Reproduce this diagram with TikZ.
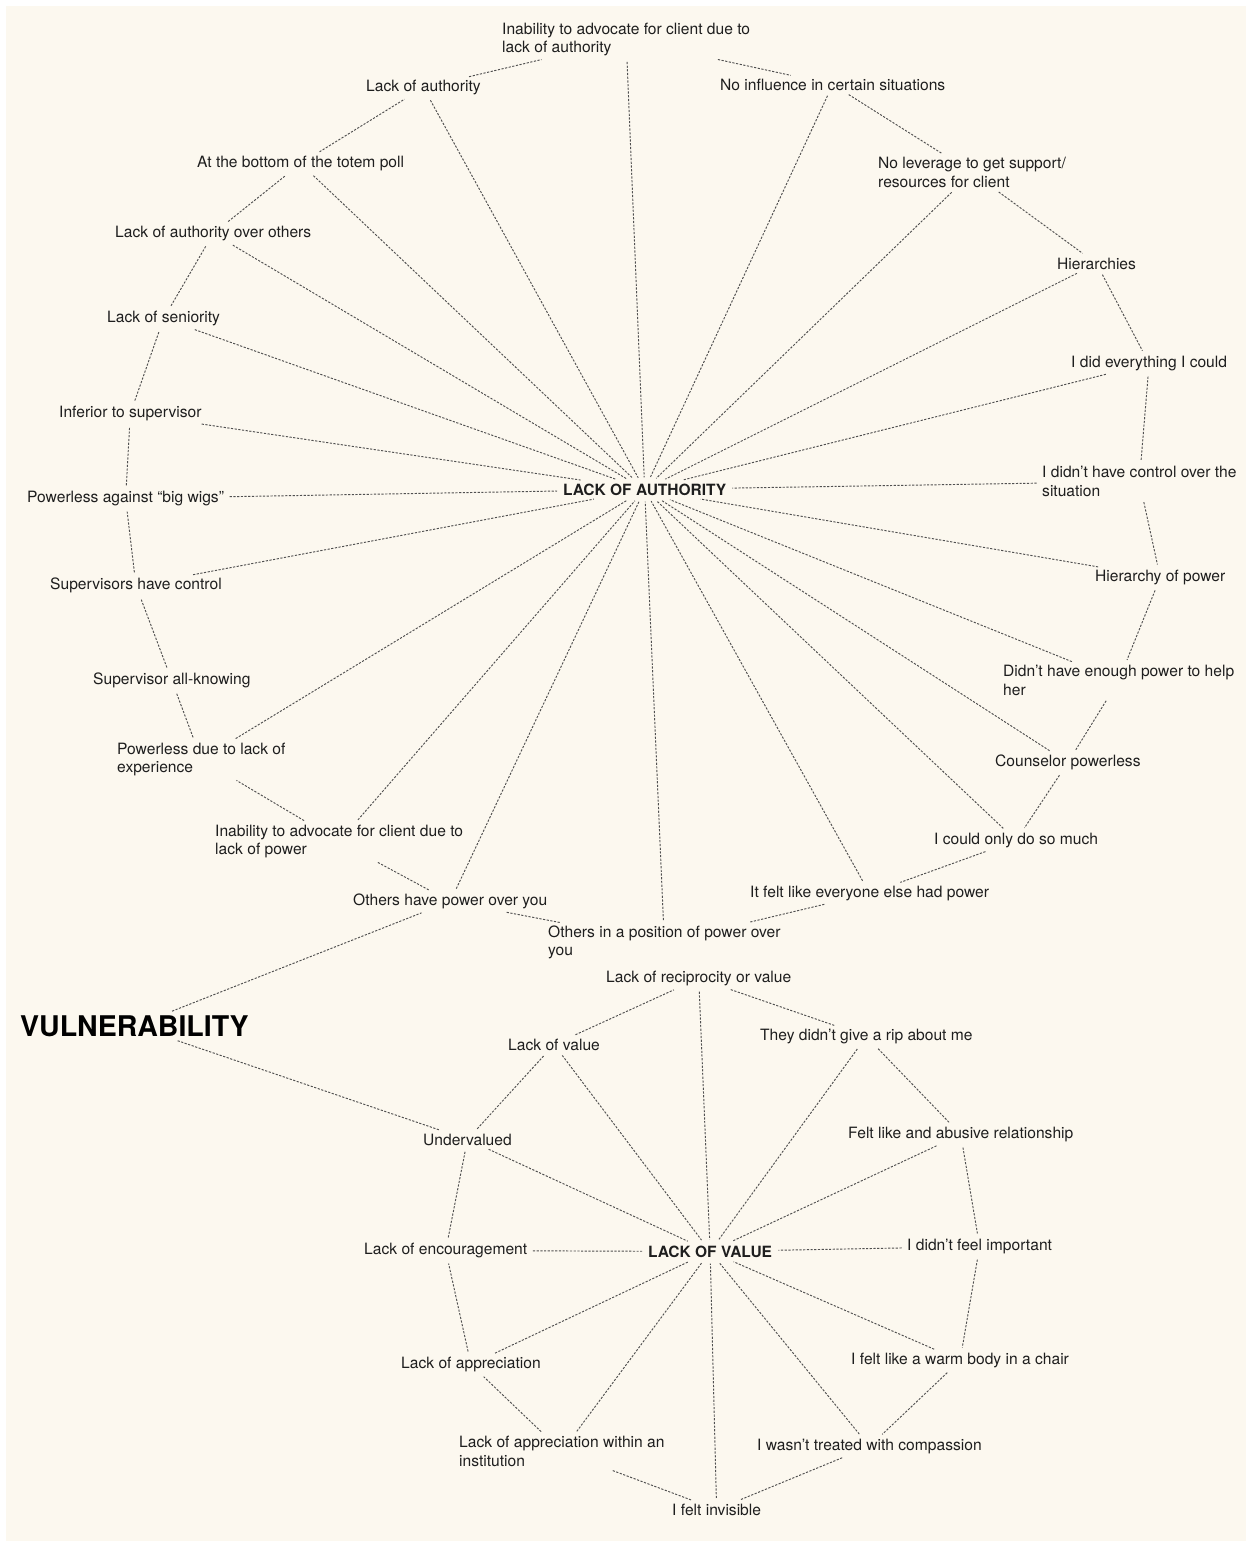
\documentclass[tikz,border=0pt]{standalone}
\usepackage{fontspec}
\setmainfont{TeX Gyre Heros}
\definecolor{paper}{RGB}{252,248,239}
\definecolor{ink}{RGB}{30,30,30}
\definecolor{wire}{RGB}{80,80,80}
\newcommand\labelfont{\fontsize{15.6}{18.5}\selectfont}
\newcommand\hubfont{\fontsize{15.5}{18.5}\selectfont\bfseries}
\newcommand\titlefont{\fontsize{28.5}{32}\selectfont\bfseries}
\tikzset{
  lbl/.style={font=\labelfont, text=ink, inner sep=2.5pt, anchor=west, align=left,
              xshift=-2.5pt, yshift=-2.5pt},
  hub/.style={font=\hubfont, text=ink, inner sep=3pt, anchor=west, xshift=-3pt, yshift=-1.5pt},
  link/.style={draw=wire, line width=0.95pt, dash pattern=on 2.2pt off 1.5pt,
               shorten >=3pt, shorten <=3pt}
}
\begin{document}
\begin{tikzpicture}[x=1pt,y=-1pt]
  % page and paper
  \fill[white] (0,0) rectangle (1252,1547);
  \fill[paper] (6,6) rectangle (1246,1541);
  \useasboundingbox (0,0) rectangle (1252,1547);

  % ---------- lack of authority cluster ----------
  \node[hub] (auth) at (563,488) {LACK OF AUTHORITY};

  \node[lbl] (a1)  at (502,37)   {Inability to advocate for client due to\\lack of authority};
  \node[lbl] (a2)  at (720,82)   {No influence in certain situations};
  \node[lbl] (a3)  at (878,170)  {No leverage to get support/\\resources for client};
  \node[lbl] (a4)  at (1057,261) {Hierarchies};
  \node[lbl] (a5)  at (1071,361) {I did everything I could};
  \node[lbl] (a6)  at (1042,479) {I didn’t have control over the\\situation};
  \node[lbl] (a7)  at (1095,575) {Hierarchy of power};
  \node[lbl] (a8)  at (1003,678) {Didn’t have enough power to help\\her};
  \node[lbl] (a9)  at (995,760)  {Counselor powerless};
  \node[lbl] (a10) at (934,838)  {I could only do so much};
  \node[lbl] (a11) at (750,891)  {It felt like everyone else had power};
  \node[lbl] (a12) at (548,940)  {Others in a position of power over\\you};
  \node[lbl] (a13) at (353,899)  {Others have power over you};
  \node[lbl] (a14) at (215,839)  {Inability to advocate for client due to\\lack of power};
  \node[lbl] (a15) at (117,757)  {Powerless due to lack of\\experience};
  \node[lbl] (a16) at (93,678)   {Supervisor all-knowing};
  \node[lbl] (a17) at (50,583)   {Supervisors have control};
  \node[lbl] (a18) at (27,496)   {Powerless against “big wigs”};
  \node[lbl] (a19) at (59,411)   {Inferior to supervisor};
  \node[lbl] (a20) at (107,316)  {Lack of seniority};
  \node[lbl] (a21) at (115,231)  {Lack of authority over others};
  \node[lbl] (a22) at (197,161)  {At the bottom of the totem poll};
  \node[lbl] (a23) at (366,85)   {Lack of authority};

  % spokes to the hub (all but a16)
  \foreach \i in {1,...,15,17,18,...,23} \draw[link] (a\i) -- (auth);
  % outer ring
  \foreach \i [evaluate=\i as \j using {int(\i+1)}] in {1,...,22} \draw[link] (a\i) -- (a\j);
  \draw[link] (a23) -- (a1);

  % ---------- lack of value cluster ----------
  \node[hub] (val) at (648,1250) {LACK OF VALUE};

  \node[lbl] (b1)  at (606,976)  {Lack of reciprocity or value};
  \node[lbl] (b2)  at (760,1034) {They didn’t give a rip about me};
  \node[lbl] (b3)  at (848,1132) {Felt like and abusive relationship};
  \node[lbl] (b4)  at (907,1244) {I didn’t feel important};
  \node[lbl] (b5)  at (851,1358) {I felt like a warm body in a chair};
  \node[lbl] (b6)  at (757,1444) {I wasn’t treated with compassion};
  \node[lbl] (b7)  at (672,1507) {I felt invisible};
  \node[lbl] (b8)  at (459,1449) {Lack of appreciation within an\\institution};
  \node[lbl] (b9)  at (401,1362) {Lack of appreciation};
  \node[lbl] (b10) at (364,1248) {Lack of encouragement};
  \node[lbl] (b11) at (423,1137) {Undervalued};
  \node[lbl] (b12) at (508,1042) {Lack of value};

  \foreach \i in {1,...,12} \draw[link] (b\i) -- (val);
  \foreach \i [evaluate=\i as \j using {int(\i+1)}] in {1,...,11} \draw[link] (b\i) -- (b\j);
  \draw[link] (b12) -- (b1);

  % ---------- overall theme ----------
  \node[font=\titlefont, text=black, inner sep=3pt, anchor=west, xshift=-3pt] (vul) at (20,1026) {VULNERABILITY};
  \draw[link] (vul) -- (a13);
  \draw[link] (vul) -- (b11);
\end{tikzpicture}
\end{document}
